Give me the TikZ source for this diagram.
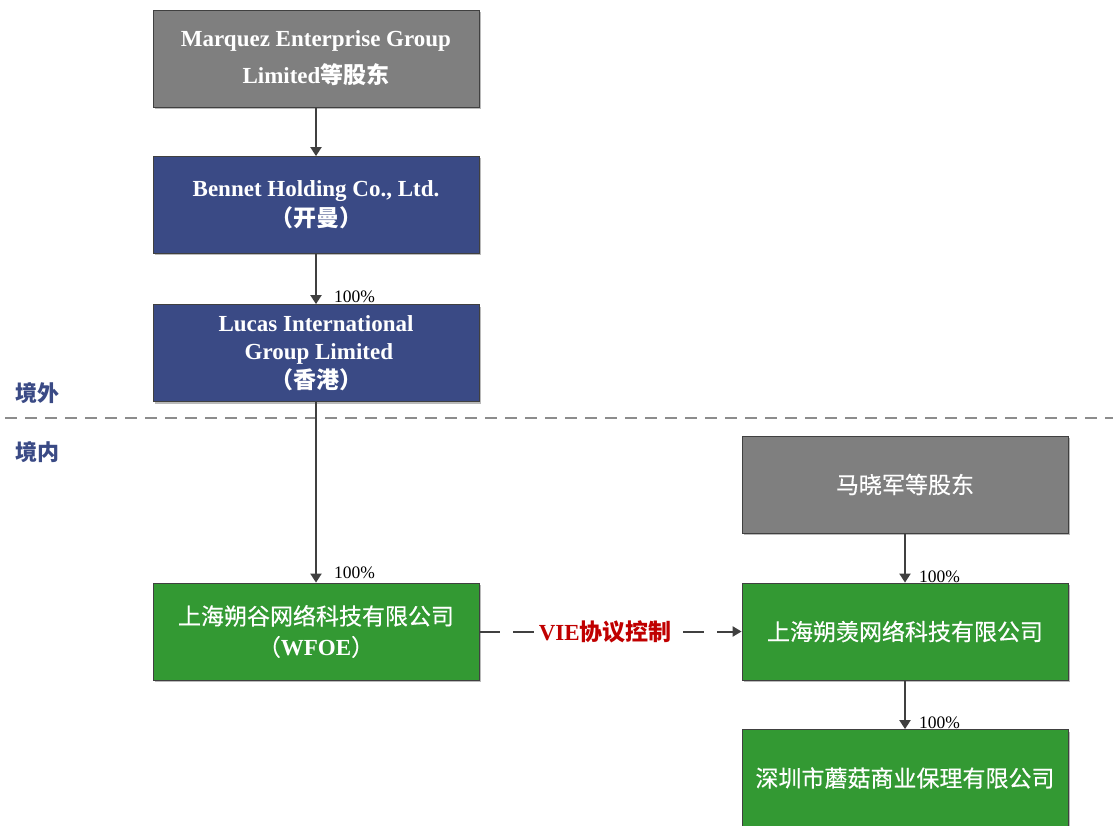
\documentclass[tikz,border=0pt]{standalone}
\usepackage{fontspec}
\setmainfont{Liberation Serif}
\newfontfamily\cjk{Noto Sans CJK SC}
\newfontfamily\cjkm[FakeBold=0.4]{Noto Sans CJK SC}
\usetikzlibrary{arrows.meta,shadows}
\definecolor{boxgray}{HTML}{7F7F7F}
\definecolor{boxblue}{HTML}{3A4A85}
\definecolor{boxgreen}{HTML}{339933}
\definecolor{edge}{HTML}{404040}
\definecolor{zone}{HTML}{3A4A85}
\definecolor{viered}{HTML}{C00000}
\tikzset{
  entity/.style={draw=edge, line width=0.8pt, minimum width=326pt, minimum height=97pt,
    inner sep=0pt, text=white, align=center,
    drop shadow={shadow xshift=2pt, shadow yshift=-2pt, fill=black!45, opacity=0.6}},
  entbold/.style={entity, font=\fontsize{23}{30}\selectfont\bfseries},
  own/.style={draw=edge, line width=2pt, -{Triangle[width=11pt,length=9pt]}},
  pct/.style={font=\fontsize{17.5}{20}\selectfont, anchor=south west, inner sep=0pt},
  zonelbl/.style={text=zone, font=\fontsize{22}{24}\selectfont\cjk\bfseries, inner sep=0pt}
}
\begin{document}
\begin{tikzpicture}[x=1pt,y=-1pt]
\useasboundingbox (0,0) rectangle (1113,826);
% boxes
\node[entbold, fill=boxgray, font=\fontsize{23}{37}\selectfont\bfseries] (mq) at (316,58.5)
  {Marquez Enterprise Group\\Limited{\cjk 等股东}};
\node[entbold, fill=boxblue] (bn) at (316,205)
  {Bennet Holding Co., Ltd.\\{\cjk （开曼）}};
\node[entbold, fill=boxblue, font=\fontsize{23}{28.5}\selectfont\bfseries] (lc) at (316,353)
  {Lucas International\\\ Group Limited\\{\cjk （香港）}};
\node[entity, fill=boxgreen, font=\fontsize{23}{31}\selectfont] (wf) at (316,631.5)
  {{\cjkm 上海朔谷网络科技有限公司}\\{\cjkm （}\textbf{WFOE}{\cjkm ）}};
\node[entity, fill=boxgray, font=\fontsize{23}{30}\selectfont\cjkm] (mx) at (905,484.5)
  {马晓军等股东};
\node[entity, fill=boxgreen, font=\fontsize{23}{30}\selectfont\cjkm] (sx) at (905,631.5)
  {上海朔羡网络科技有限公司};
\node[entity, fill=boxgreen, font=\fontsize{23}{30}\selectfont\cjkm] (sz) at (905,778)
  {深圳市蘑菇商业保理有限公司};
% border line
\coordinate (bl) at (5,418);
\coordinate (br) at (1113,418);
\draw[draw=black!45, line width=2.6pt, dash pattern=on 12pt off 8pt] (bl) -- (br);
\node[zonelbl, anchor=west] (jw) at (15,393) {境外};
\node[zonelbl, anchor=west] (jn) at (15,452) {境内};
% ownership arrows
\draw[own] (mq.south) -- (bn.north);
\draw[own] (bn.south) -- (lc.north);
\node[pct] (p1) at (334,303) {100\%};
\draw[own] (lc.south) -- (wf.north);
\node[pct] (p2) at (334,579) {100\%};
\draw[own] (mx.south) -- (sx.north);
\node[pct] (p3) at (919,583) {100\%};
\draw[own] (sx.south) -- (sz.north);
\node[pct] (p4) at (919,729) {100\%};
% VIE
\draw[draw=edge, line width=2pt, dash pattern=on 21pt off 13pt, -{Triangle[width=10pt,length=9pt]}]
  (wf.east) -- (sx.east -| sx.west)
  node[pos=0.48, fill=white, inner sep=3pt, text=viered, font=\fontsize{23}{26}\selectfont\bfseries] (vie)
  {VIE{\cjk 协议控制}};
\end{tikzpicture}
\end{document}
